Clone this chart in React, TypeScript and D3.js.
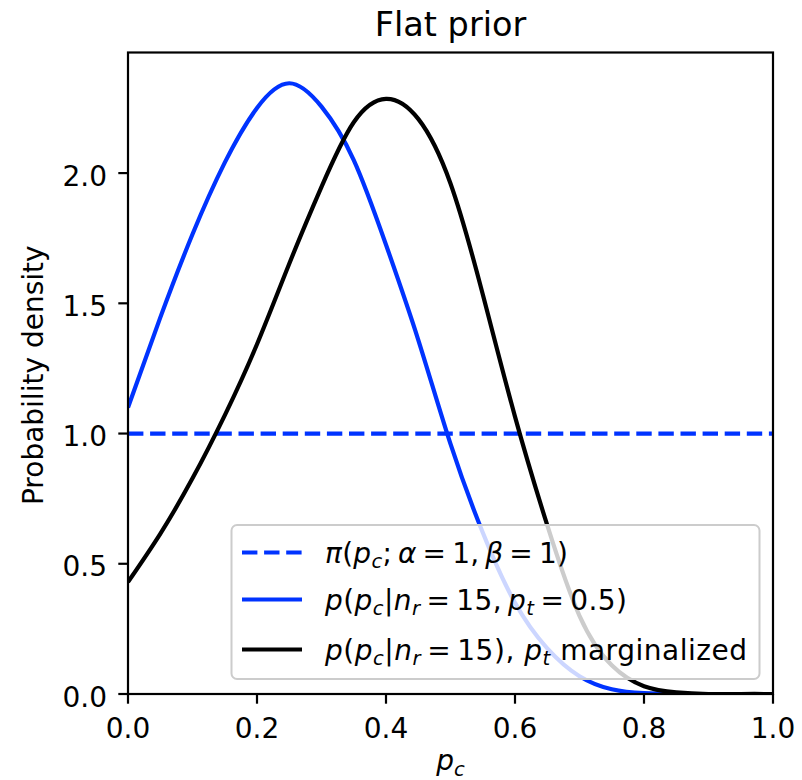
import React from 'react';
import * as d3 from 'd3';

// p_c grid (x) and curve values
const pcGrid = [0, 0.05, 0.1, 0.15, 0.2, 0.25, 0.3, 0.35, 0.4, 0.45, 0.5, 0.55, 0.6, 0.65, 0.7, 0.75, 0.8, 0.85, 0.9, 0.95, 1.0];
const conditionalDensity = [1.10, 1.445, 1.765, 2.04, 2.25, 2.345, 2.255, 2.05, 1.725, 1.36, 0.96, 0.62, 0.35, 0.175, 0.068, 0.018, 0.003, 0, 0, 0, 0];
const marginalDensity = [0.43, 0.615, 0.828, 1.07, 1.343, 1.652, 1.947, 2.195, 2.285, 2.208, 1.96, 1.535, 1.065, 0.648, 0.30, 0.11, 0.03, 0.006, 0, 0, 0];
const priorX = [0, 1];
const priorDensity = [1, 1];

const xTicks = [0, 0.2, 0.4, 0.6, 0.8, 1.0];
const yTicks = [0, 0.5, 1.0, 1.5, 2.0];
const xDomain = [0, 1];
const yDomain = [0, 2.463];

const BLUE = '#0033ff';
const FONT = 'DejaVu Sans, sans-serif';
const TS = '\u2009';

type Seg = { t: string; it?: boolean; sub?: boolean };

const legendRows: { color: string; dash?: string; width: number; segs: Seg[] }[] = [
  {
    color: BLUE,
    dash: '15.4,6.7',
    width: 243,
    segs: [
      { t: 'π', it: true }, { t: '(' }, { t: 'p', it: true }, { t: 'c', it: true, sub: true },
      { t: ';' + TS }, { t: 'α', it: true }, { t: TS + '=' + TS + '1,' + TS }, { t: 'β', it: true }, { t: TS + '=' + TS + '1)' },
    ],
  },
  {
    color: BLUE,
    width: 302,
    segs: [
      { t: 'p', it: true }, { t: '(' }, { t: 'p', it: true }, { t: 'c', it: true, sub: true },
      { t: '|' }, { t: 'n', it: true }, { t: 'r', it: true, sub: true }, { t: TS + '=' + TS + '15,' + TS },
      { t: 'p', it: true }, { t: 't', it: true, sub: true }, { t: TS + '=' + TS + '0.5)' },
    ],
  },
  {
    color: '#000000',
    width: 422,
    segs: [
      { t: 'p', it: true }, { t: '(' }, { t: 'p', it: true }, { t: 'c', it: true, sub: true },
      { t: '|' }, { t: 'n', it: true }, { t: 'r', it: true, sub: true }, { t: TS + '=' + TS + '15), ' },
      { t: 'p', it: true }, { t: 't', it: true, sub: true }, { t: ' marginalized' },
    ],
  },
];

function MathText({ x, y, segs, size, width }: { x: number; y: number; segs: Seg[]; size: number; width: number }) {
  const shift = size * 0.2;
  let cur = 0;
  return (
    <text x={x} y={y} fontFamily={FONT} fontSize={size} fill="#000" textLength={width} lengthAdjust="spacing">
      {segs.map((s, i) => {
        const target = s.sub ? shift : 0;
        const dy = target - cur;
        cur = target;
        return (
          <tspan key={i} dy={dy} fontStyle={s.it ? 'italic' : 'normal'} fontSize={s.sub ? size * 0.7 : size}>
            {s.t}
          </tspan>
        );
      })}
    </text>
  );
}

export default function App() {
  const W = 802, H = 780;
  const left = 128, right = 773, top = 52.5, bottom = 694;
  const x = d3.scaleLinear().domain(xDomain).range([left, right]);
  const y = d3.scaleLinear().domain(yDomain).range([bottom, top]);

  const line = d3.line<[number, number]>().x(d => x(d[0])).y(d => y(Math.max(0, d[1]))).curve(d3.curveNatural);
  const condPath = line(pcGrid.map((p, i) => [p, conditionalDensity[i]]))!;
  const margPath = line(pcGrid.map((p, i) => [p, marginalDensity[i]]))!;
  const priorPath = d3.line<[number, number]>().x(d => x(d[0])).y(d => y(d[1]))(priorX.map((p, i) => [p, priorDensity[i]]))!;

  const tickLen = 9.7;
  const fs = 28;
  const lw = 4.2;

  const legX = 231.5, legY = 525, legW = 528, legH = 154;
  const rowYs = [552.5, 599.5, 649.5];

  return (
    <svg width={W} height={H} style={{ position: 'absolute', left: 0, top: 0, background: '#fff' }}>
      <rect x={0} y={0} width={W} height={H} fill="#fff" />
      <defs>
        <clipPath id="axclip">
          <rect x={left} y={top} width={right - left} height={bottom - top} />
        </clipPath>
      </defs>
      <g clipPath="url(#axclip)" fill="none" strokeWidth={lw}>
        <path d={priorPath} stroke={BLUE} strokeDasharray="15.4,6.7" />
        <path d={condPath} stroke={BLUE} strokeLinejoin="round" />
        <path d={margPath} stroke="#000" strokeLinejoin="round" />
      </g>
      {/* spines */}
      <rect x={left} y={top} width={right - left} height={bottom - top} fill="none" stroke="#000" strokeWidth={2.2} />
      {/* x ticks */}
      {xTicks.map(t => (
        <g key={'x' + t}>
          <line x1={x(t)} x2={x(t)} y1={bottom} y2={bottom + tickLen} stroke="#000" strokeWidth={2.2} />
          <text x={x(t)} y={738} textAnchor="middle" fontFamily={FONT} fontSize={fs} fill="#000">{d3.format('.1f')(t)}</text>
        </g>
      ))}
      {/* y ticks */}
      {yTicks.map(t => (
        <g key={'y' + t}>
          <line x1={left - tickLen} x2={left} y1={y(t)} y2={y(t)} stroke="#000" strokeWidth={2.2} />
          <text x={107} y={y(t) + 12.5} textAnchor="end" fontFamily={FONT} fontSize={fs} fill="#000">{d3.format('.1f')(t)}</text>
        </g>
      ))}
      {/* title */}
      <text x={(left + right) / 2} y={36} textAnchor="middle" fontFamily={FONT} fontSize={33.5} fill="#000">Flat prior</text>
      {/* y label */}
      <text transform={`translate(43,${(top + bottom) / 2 + 2}) rotate(-90)`} textAnchor="middle" fontFamily={FONT} fontSize={fs} fill="#000">Probability density</text>
      {/* x label */}
      <text x={(left + right) / 2} y={770} textAnchor="middle" fontFamily={FONT} fontSize={fs} fill="#000">
        <tspan fontStyle="italic">p</tspan>
        <tspan fontStyle="italic" fontSize={fs * 0.7} dy={5.6}>c</tspan>
      </text>
      {/* legend */}
      <rect x={legX} y={legY} width={legW} height={legH} rx={5.6} ry={5.6} fill="#fff" fillOpacity={0.8} stroke="#cccccc" strokeWidth={2} />
      {legendRows.map((r, i) => (
        <g key={i}>
          <line x1={242} x2={302} y1={rowYs[i]} y2={rowYs[i]} stroke={r.color} strokeWidth={lw} strokeDasharray={r.dash} />
          <MathText x={325} y={rowYs[i] + 10} segs={r.segs} size={fs} width={r.width} />
        </g>
      ))}
    </svg>
  );
}
